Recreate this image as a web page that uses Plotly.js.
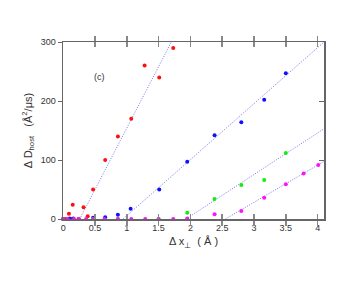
<!DOCTYPE html>
<html>
<head>
<meta charset="utf-8">
<script src="https://cdn.plot.ly/plotly-3.0.1.min.js"></script>
<style>html,body{margin:0;padding:0;background:#fff;}#chart{width:363px;height:281px;}</style>
</head>
<body>
<div id="chart"></div>
<script>
// Data
const redX = [0.0, 0.04, 0.09, 0.14, 0.15, 0.24, 0.32, 0.385, 0.47, 0.66, 0.86, 1.07, 1.28, 1.51, 1.73];
const redY = [0, 0, 9, 0, 24, 0, 20, 4.5, 50, 100, 140, 170, 260, 240, 290];
const blueX = [0.0, 0.1, 0.16, 0.47, 0.66, 0.86, 1.06, 1.51, 1.95, 2.38, 2.80, 3.16, 3.50];
const blueY = [0, 1, 1, 2, 3, 7, 17.5, 50, 97, 142, 164, 202, 247];
const greenX = [0.0, 0.47, 0.86, 1.5, 1.95, 2.38, 2.80, 3.16, 3.50];
const greenY = [0, 0, 0, 0, 10.5, 34, 57.6, 66, 112];
const magentaX = [0, 0.07, 0.17, 0.25, 0.36, 0.48, 0.65, 0.86, 1.07, 1.29, 1.5, 1.73, 1.95, 2.38, 2.80, 3.16, 3.50, 3.78, 4.01];
const magentaY = [0, 0, 0, 0, 0, 0, 0, 0, 0, 0, 0, 0, 1, 8, 13.5, 36, 59, 77, 91.5];
// Linear fit segments (endpoints)
const redFitX = [0.26, 1.70];
const redFitY = [0, 300];
const blueFitX = [0.94, 4.1];
const blueFitY = [0, 300];
const greenFitX = [1.93, 4.1];
const greenFitY = [0, 153];
const magentaFitX = [2.55, 4.1];
const magentaFitY = [0, 97.6];
const xTicks = [0, 0.5, 1, 1.5, 2, 2.5, 3, 3.5, 4];
const xTickText = ['0', '0.5', '1', '1.5', '2', '2.5', '3', '3.5', '4'];
const yTicks = [0, 100, 200, 300];

const fitLine = {color: '#7676f2', width: 1, dash: '1px,1.5px'};
function fit(x, y) {
  return {x: x, y: y, type: 'scatter', mode: 'lines', line: fitLine, hoverinfo: 'skip'};
}
function pts(x, y, c) {
  return {x: x, y: y, type: 'scatter', mode: 'markers', marker: {color: c, size: 4}, cliponaxis: false};
}
const data = [
  fit(redFitX, redFitY), fit(blueFitX, blueFitY), fit(greenFitX, greenFitY), fit(magentaFitX, magentaFitY),
  pts(redX, redY, '#ff1010'), pts(blueX, blueY, '#1010ff'), pts(greenX, greenY, '#10ee10'), pts(magentaX, magentaY, '#ff10ff'),
  {x: [0], y: [0], yaxis: 'y2', type: 'scatter', mode: 'markers', marker: {opacity: 0}, hoverinfo: 'skip', showlegend: false}
];
const font = {family: 'Liberation Sans, Arial, sans-serif', size: 9, color: '#333'};
const layout = {
  width: 363, height: 281,
  margin: {l: 63, r: 39, t: 42, b: 62},
  paper_bgcolor: '#fff', plot_bgcolor: '#fff',
  showlegend: false,
  font: font,
  xaxis: {
    range: [-0.003, 4.1], tickvals: xTicks, ticktext: xTickText,
    ticks: 'inside', ticklen: 5, tickcolor: '#888', tickwidth: 1.5,
    mirror: 'allticks', showline: true, linecolor: '#666', linewidth: 1.5,
    showgrid: false, zeroline: false,
    tickfont: font,
    title: {text: 'Δ x<sub>⊥</sub>  ( Å )', font: {family: font.family, size: 11, color: '#333'}, standoff: 5}
  },
  yaxis: {
    range: [0, 300], tickvals: yTicks,
    ticks: 'outside', ticklen: 4, tickcolor: '#666', tickwidth: 1,
    showline: true, linecolor: '#666', linewidth: 1.5,
    showgrid: false, zeroline: false,
    tickfont: font, automargin: true,
    title: {text: 'Δ D<sub>host</sub>   (Å<sup>2</sup>/μs)', font: {family: font.family, size: 11, color: '#333'}, standoff: 6}
  },
  yaxis2: {
    range: [0, 300], tickvals: yTicks, overlaying: 'y', side: 'right',
    ticks: 'inside', ticklen: 5, tickcolor: '#666', tickwidth: 1,
    showline: true, linecolor: '#666', linewidth: 1.5,
    showticklabels: false, showgrid: false, zeroline: false
  },
  annotations: [{x: 0.57, y: 240, xref: 'x', yref: 'y', text: '(c)', showarrow: false, font: font}]
};
Plotly.newPlot('chart', data, layout, {staticPlot: true, displayModeBar: false});
</script>
</body>
</html>
